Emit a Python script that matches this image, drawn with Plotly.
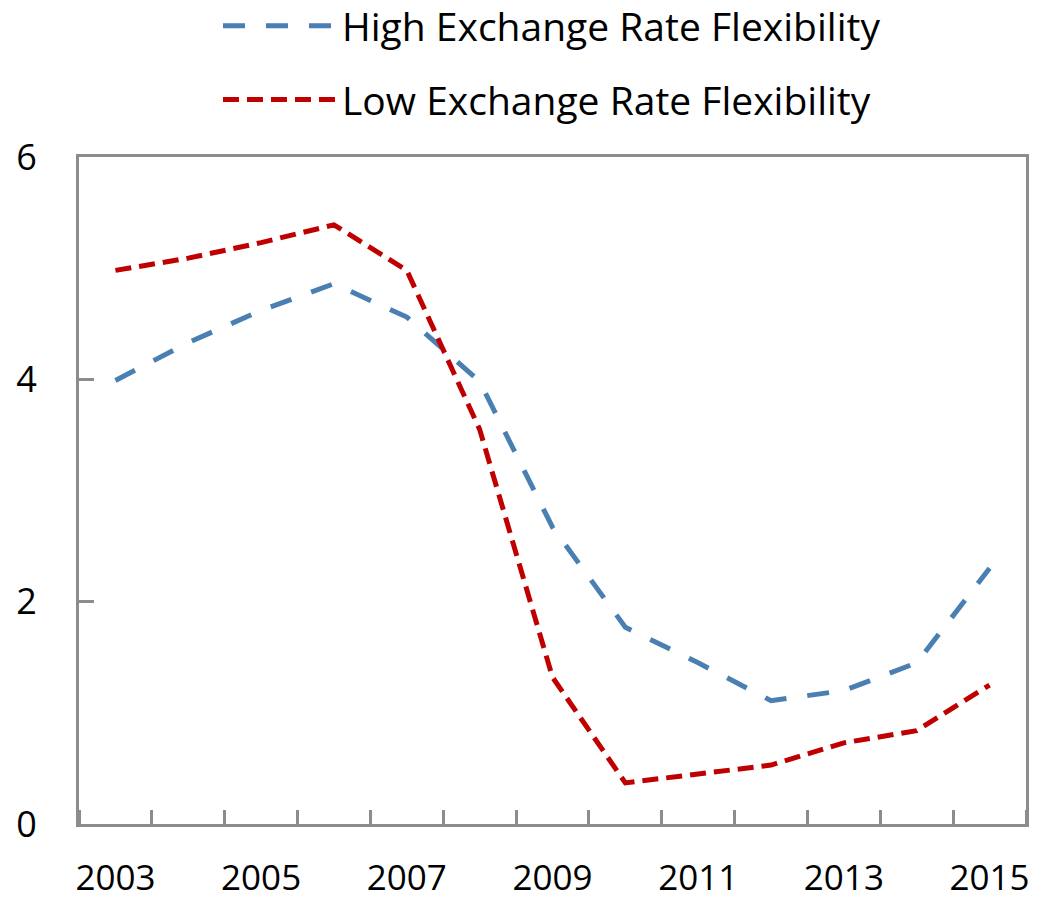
import plotly.graph_objects as go

years = list(range(2003, 2016))
high_flex = [3.99, 4.33, 4.62, 4.86, 4.56, 3.98, 2.67, 1.77, 1.45, 1.11, 1.20, 1.45, 2.30]
low_flex = [4.98, 5.09, 5.23, 5.39, 4.98, 3.55, 1.32, 0.37, 0.45, 0.53, 0.73, 0.84, 1.25]
x_tick_labels = ["2003", "2005", "2007", "2009", "2011", "2013", "2015"]
y_ticks = [0, 2, 4, 6]

FONT = "Open Sans"
AXIS_COLOR = "#8C8C8C"

fig = go.Figure()
fig.add_trace(go.Scatter(
    x=years, y=high_flex, mode="lines", name="High Exchange Rate Flexibility",
    line=dict(color="#4A7FB2", width=5, dash="22px,21px"), legendgroup="a",
))
fig.add_trace(go.Scatter(
    x=years, y=low_flex, mode="lines", name="Low Exchange Rate Flexibility",
    line=dict(color="#C00000", width=5, dash="16px,8px"), legendgroup="b",
))

fig.update_layout(
    width=1039, height=896,
    margin=dict(l=71, r=21, t=149, b=80, autoexpand=False),
    paper_bgcolor="white", plot_bgcolor="white",
    font=dict(family=FONT, size=36, color="black"),
    showlegend=True,
    legend=dict(
        xref="container", yref="paper",
        x=210 / 1039, y=1.2445, xanchor="left", yanchor="top",
        bgcolor="rgba(0,0,0,0)", itemwidth=114,
        tracegroupgap=20, traceorder="grouped",
        font=dict(family=FONT, size=39, color="black"),
    ),
    xaxis=dict(
        range=[2002.5, 2015.5],
        tickmode="array", tickvals=[int(t) for t in x_tick_labels], ticktext=x_tick_labels,
        ticks="", showgrid=False, zeroline=False, tickangle=0,
        showline=True, linecolor=AXIS_COLOR, linewidth=3, mirror=True,
        ticklabelstandoff=21,
        minor=dict(ticks="inside", ticklen=14, tickwidth=3, tickcolor=AXIS_COLOR,
                   tick0=2003.5, dtick=1, showgrid=False),
        tickfont=dict(family=FONT, size=35, color="black"),
    ),
    yaxis=dict(
        range=[0, 6], tickmode="array", tickvals=y_ticks,
        ticks="inside", ticklen=15, tickwidth=3, tickcolor=AXIS_COLOR,
        showgrid=False, zeroline=False,
        showline=True, linecolor=AXIS_COLOR, linewidth=3, mirror=True,
        ticklabelstandoff=32,
        tickfont=dict(family=FONT, size=36, color="black"),
    ),
)

fig.write_html("out.html")
